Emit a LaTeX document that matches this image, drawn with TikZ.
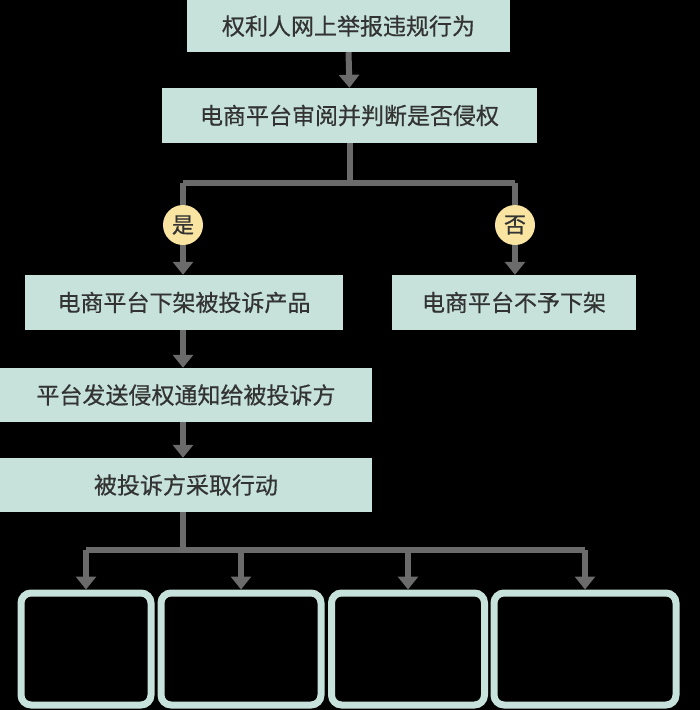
\documentclass[tikz,border=0pt]{standalone}
\usepackage{fontspec}
\newfontfamily\cjk[FakeBold=0.6]{Noto Sans CJK SC}
\usetikzlibrary{arrows.meta}
\definecolor{boxc}{HTML}{C6E2DA}
\definecolor{arr}{HTML}{6B6B6B}
\definecolor{circ}{HTML}{F9E4A2}
\begin{document}
\begin{tikzpicture}[x=1pt,y=-1pt,
  bx/.style={fill=boxc,draw=none,inner sep=0pt,font=\cjk\fontsize{23}{26}\selectfont,text=black!80},
  ln/.style={draw=arr,line width=6pt},
  ar/.style={draw=arr,line width=6pt,-{Triangle[width=20pt,length=13pt]}},
  cc/.style={circle,fill=circ,minimum size=40pt,inner sep=0pt,font=\cjk\fontsize{22}{24}\selectfont,text=black!80},
  ob/.style={draw=boxc,line width=7pt,rounded corners=10pt}]
\fill[black] (0,0) rectangle (700,710);
\useasboundingbox (0,0) rectangle (700,710);
\node[bx,minimum width=323pt,minimum height=52pt] (a) at (348.5,26) {权利人网上举报违规行为};
\node[bx,minimum width=375pt,minimum height=55pt] (b) at (349.5,115.5) {电商平台审阅并判断是否侵权};
\node[cc] (y) at (183,225) {是};
\node[cc] (n) at (515,225) {否};
\node[bx,minimum width=318pt,minimum height=55pt] (c) at (184,302.5) {电商平台下架被投诉产品};
\node[bx,minimum width=244pt,minimum height=55pt] (d) at (514,302.5) {电商平台不予下架};
\node[bx,minimum width=372pt,minimum height=54pt] (e) at (186,395) {平台发送侵权通知给被投诉方};
\node[bx,minimum width=372pt,minimum height=54pt] (f) at (186,485) {被投诉方采取行动};
\coordinate (j1) at (349.5,183);
\coordinate (jl) at (183,183);
\coordinate (jr) at (515,183);
\draw[ar] (a.south) -- (b.north);
\draw[ln] (b.south) -- (j1);
\draw[ln] (jl) -- (jr);
\draw[ln] (jl) -- (y.north);
\draw[ln] (jr) -- (n.north);
\draw[ar] (y.south) -- (y.south|-c.north);
\draw[ar] (n.south) -- (n.south|-d.north);
\draw[ar] (c.south-|y) -- (e.north-|y);
\draw[ar] (e.south-|y) -- (f.north-|y);
\node[ob,minimum width=130pt,minimum height=112pt] (g1) at (86,649) {};
\node[ob,minimum width=160pt,minimum height=112pt] (g2) at (241,649) {};
\node[ob,minimum width=153pt,minimum height=112pt] (g3) at (408,649) {};
\node[ob,minimum width=182pt,minimum height=112pt] (g4) at (585,649) {};
\coordinate (k) at (183,550);
\draw[ln] (f.south-|y) -- (k);
\draw[ln] (86,550) -- (585,550);
\foreach \g in {g1,g2,g3,g4}{\draw[ar] (\g.north|-k) -- (\g.north);}
\end{tikzpicture}
\end{document}
